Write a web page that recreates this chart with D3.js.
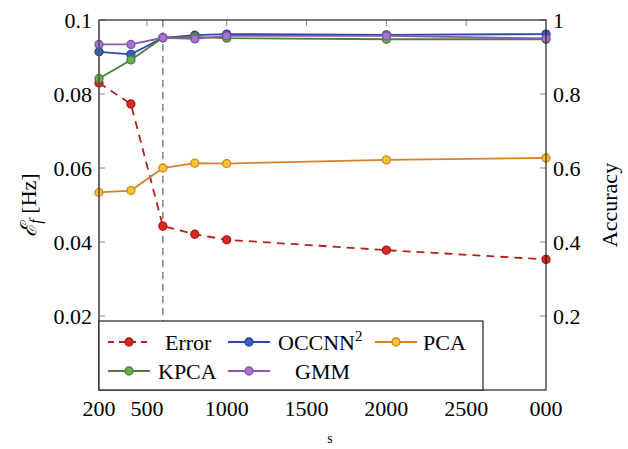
<!DOCTYPE html>
<html>
<head>
<meta charset="utf-8">
<script src="https://cdn.jsdelivr.net/npm/d3@7"></script>
<style>
  body { margin: 0; background: #fff; }
</style>
</head>
<body>
<div id="chart"></div>
<script>
// sample sizes
const sizes = [200, 400, 600, 800, 1000, 2000, 3000];
// left axis: error in Hz
const errorVals = [0.083, 0.0773, 0.0443, 0.0421, 0.0406, 0.0378, 0.0353];
// right axis: accuracy
const occnnVals = [0.914, 0.907, 0.952, 0.959, 0.962, 0.960, 0.962];
const pcaVals = [0.534, 0.539, 0.600, 0.613, 0.612, 0.622, 0.627];
const kpcaVals = [0.842, 0.892, 0.952, 0.954, 0.951, 0.948, 0.948];
const gmmVals = [0.934, 0.934, 0.952, 0.949, 0.957, 0.957, 0.950];

const xTicks = [200, 500, 1000, 1500, 2000, 2500, 3000];
const xTickLabels = ["200", "500", "1000", "1500", "2000", "2500", "000"];
const leftTicks = [0.02, 0.04, 0.06, 0.08, 0.1];
const rightTicks = [0.2, 0.4, 0.6, 0.8, 1];
const markerLine = 600;

const serif = "'Liberation Serif', 'DejaVu Serif', serif";
const fs = 22;

const drawChart = () => {
  const width = 628, height = 449;
  const margin = { top: 20, right: 82, bottom: 59, left: 99 };

  const svg = d3.select("#chart").append("svg")
    .attr("width", width).attr("height", height)
    .attr("font-family", serif)
    .style("font-family", serif);

  const x = d3.scaleLinear().domain([200, 3000]).range([margin.left, width - margin.right]);
  const yL = d3.scaleLinear().domain([0, 0.1]).range([height - margin.bottom, margin.top]);
  const yR = d3.scaleLinear().domain([0, 1]).range([height - margin.bottom, margin.top]);

  const x0 = margin.left, x1 = width - margin.right;
  const y0 = height - margin.bottom, y1 = margin.top;

  // inward ticks
  const tickCol = "#888";
  svg.append("g").selectAll("line").data(xTicks.slice(1, -1)).enter().append("line")
    .attr("x1", d => x(d)).attr("x2", d => x(d))
    .attr("y1", y1).attr("y2", y1 + 6)
    .attr("stroke", tickCol).attr("stroke-width", 1);
  svg.append("g").selectAll("line").data(xTicks.slice(1, -1)).enter().append("line")
    .attr("x1", d => x(d)).attr("x2", d => x(d))
    .attr("y1", y0).attr("y2", y0 - 6)
    .attr("stroke", tickCol).attr("stroke-width", 1);
  svg.append("g").selectAll("line").data(leftTicks).enter().append("line")
    .attr("x1", x0).attr("x2", x0 + 6)
    .attr("y1", d => yL(d)).attr("y2", d => yL(d))
    .attr("stroke", tickCol);
  svg.append("g").selectAll("line").data(rightTicks).enter().append("line")
    .attr("x1", x1).attr("x2", x1 - 6)
    .attr("y1", d => yR(d)).attr("y2", d => yR(d))
    .attr("stroke", tickCol);

  // dashed vertical reference
  svg.append("line")
    .attr("x1", x(markerLine)).attr("x2", x(markerLine))
    .attr("y1", y1).attr("y2", y0)
    .attr("stroke", "#8a8a8a").attr("stroke-width", 1.6)
    .attr("stroke-dasharray", "7,5");

  // tick labels
  svg.append("g").selectAll("text").data(leftTicks).enter().append("text")
    .attr("x", x0 - 7).attr("y", d => yL(d) + 8)
    .attr("text-anchor", "end").attr("font-size", fs)
    .text(d => d === 0.1 ? "0.1" : d.toFixed(2));
  svg.append("g").selectAll("text").data(rightTicks).enter().append("text")
    .attr("x", x1 + 7).attr("y", d => yR(d) + 8)
    .attr("text-anchor", "start").attr("font-size", fs)
    .text(d => d === 1 ? "1" : d.toFixed(1));
  svg.append("g").selectAll("text").data(xTicks).enter().append("text")
    .attr("x", d => x(d)).attr("y", y0 + 26)
    .attr("text-anchor", "middle").attr("font-size", fs)
    .text((d, i) => xTickLabels[i]);

  // axis titles
  svg.append("text")
    .attr("transform", `translate(36,${(y0 + y1) / 2}) rotate(-90)`)
    .attr("text-anchor", "middle").attr("font-size", 22)
    .html('<tspan font-style="italic" font-family="DejaVu Serif">ℰ</tspan><tspan font-style="italic" font-size="16" dy="5">f</tspan><tspan dy="-5"> [Hz]</tspan>');
  svg.append("text")
    .attr("transform", `translate(617,${(y0 + y1) / 2}) rotate(-90)`)
    .attr("text-anchor", "middle").attr("font-size", fs)
    .text("Accuracy");
  svg.append("text")
    .attr("x", 330).attr("y", 443)
    .attr("text-anchor", "middle").attr("font-size", 14)
    .text("s");

  const series = [
    { name: "Error", vals: errorVals, y: yL, line: "#b5201a", fill: "#d6291f", stroke: "#a81c15", dash: "8,6" },
    { name: "OCCNN", vals: occnnVals, y: yR, line: "#2d48a8", fill: "#3860c0", stroke: "#2a4498", dash: null },
    { name: "PCA", vals: pcaVals, y: yR, line: "#d9802a", fill: "#f7c52e", stroke: "#d9802a", dash: null },
    { name: "KPCA", vals: kpcaVals, y: yR, line: "#4b7f3c", fill: "#6aae4f", stroke: "#4b7f3c", dash: null },
    { name: "GMM", vals: gmmVals, y: yR, line: "#8a58b0", fill: "#a374d0", stroke: "#7f4fa8", dash: null }
  ];

  series.forEach(s => {
    const line = d3.line().x((d, i) => x(sizes[i])).y(d => s.y(d));
    svg.append("path")
      .datum(s.vals)
      .attr("d", line)
      .attr("fill", "none")
      .attr("stroke", s.line)
      .attr("stroke-width", 1.8)
      .attr("stroke-dasharray", s.dash);
    svg.append("g").selectAll("circle").data(s.vals).enter().append("circle")
      .attr("cx", (d, i) => x(sizes[i]))
      .attr("cy", d => s.y(d))
      .attr("r", 4)
      .attr("fill", s.fill)
      .attr("stroke", s.stroke)
      .attr("stroke-width", 1.3);
  });

  // frame
  svg.append("rect")
    .attr("x", x0).attr("y", y1)
    .attr("width", x1 - x0).attr("height", y0 - y1)
    .attr("fill", "none").attr("stroke", "#222").attr("stroke-width", 1.2);
  svg.append("line").attr("x1", x0).attr("x2", x0).attr("y1", y1).attr("y2", y0)
    .attr("stroke", "#666").attr("stroke-width", 1.4);

  // legend
  const lg = svg.append("g");
  lg.append("rect")
    .attr("x", x0).attr("y", 321).attr("width", 384).attr("height", y0 - 321)
    .attr("fill", "#fff").attr("stroke", "#222").attr("stroke-width", 1.2);
  const items = [
    { s: series[0], lx: 108, tx: 165, y: 342, label: "Error" },
    { s: series[1], lx: 228, tx: 278, y: 342, label: "OCCNN" },
    { s: series[2], lx: 375, tx: 423, y: 342, label: "PCA" },
    { s: series[3], lx: 108, tx: 158, y: 371, label: "KPCA" },
    { s: series[4], lx: 228, tx: 295, y: 371, label: "GMM" }
  ];
  items.forEach(it => {
    lg.append("line")
      .attr("x1", it.lx).attr("x2", it.lx + 42)
      .attr("y1", it.y).attr("y2", it.y)
      .attr("stroke", it.s.line).attr("stroke-width", 1.8)
      .attr("stroke-dasharray", it.s.dash ? "6,5" : null);
    lg.append("circle")
      .attr("cx", it.lx + 21).attr("cy", it.y).attr("r", 4)
      .attr("fill", it.s.fill).attr("stroke", it.s.stroke).attr("stroke-width", 1.3);
    const t = lg.append("text")
      .attr("x", it.tx).attr("y", it.y + 8)
      .attr("font-size", fs)
      .text(it.label);
    if (it.label === "OCCNN") {
      t.append("tspan").attr("font-size", 15).attr("dy", -9).text("2");
    }
  });
};

drawChart();
</script>
</body>
</html>
